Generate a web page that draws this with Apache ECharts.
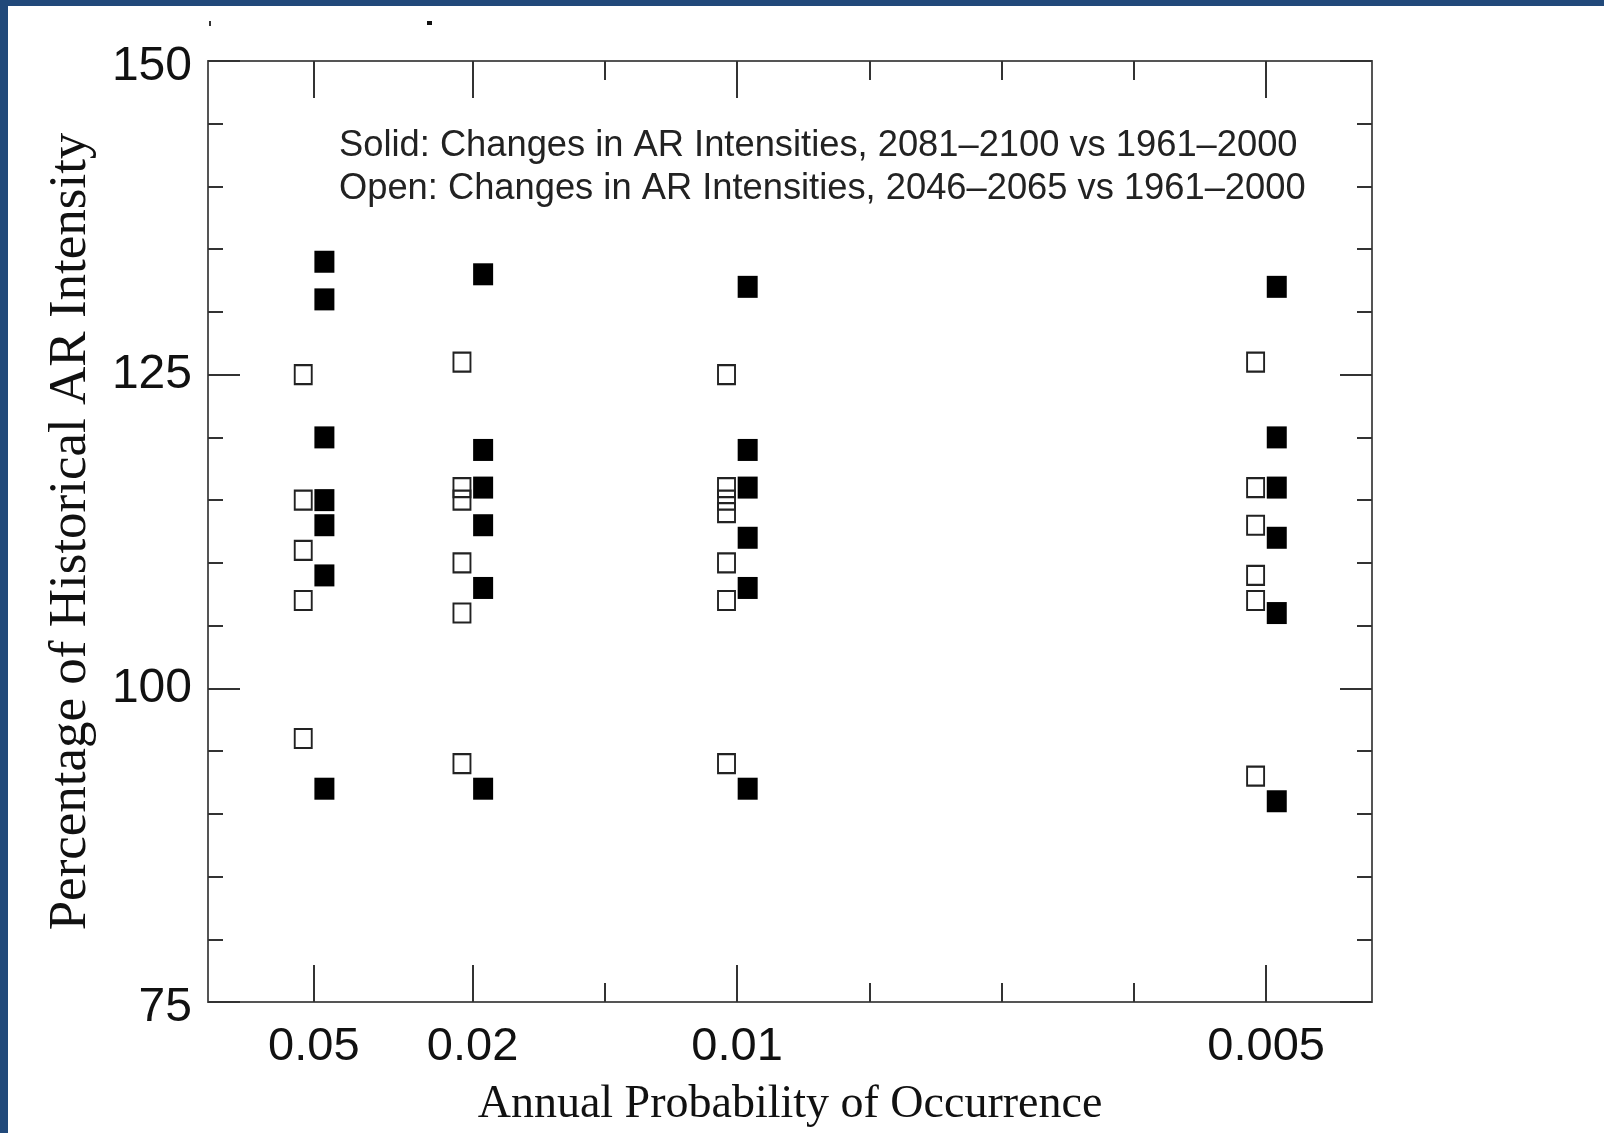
<!DOCTYPE html>
<html>
<head>
<meta charset="utf-8">
<script src="https://cdn.jsdelivr.net/npm/echarts@6/dist/echarts.min.js"></script>
<style>
  html, body { margin: 0; padding: 0; background: #fff; }
  #chart { width: 1604px; height: 1133px; }
</style>
</head>
<body>
<div id="chart"></div>
<script>
// x positions are return periods (1/p), axis is linear in them
var probLabels = ['0.05', '0.02', '0.01', '0.005'];
var returnPeriods = [20, 50, 100, 200];
var minorTickValues = [75, 125, 150, 175];

// Solid: 2081-2100 vs 1961-2000
var solidValues = [
  [134, 131, 120, 115, 113, 109, 92],
  [133, 119, 116, 113, 108, 92],
  [132, 119, 116, 112, 108, 92],
  [132, 120, 116, 112, 106, 91]
];
// Open: 2046-2065 vs 1961-2000
var openValues = [
  [125, 115, 111, 107, 96],
  [126, 116, 115, 110, 106, 94],
  [125, 116, 115, 114, 110, 107, 94],
  [126, 116, 113, 109, 107, 93]
];

var OPEN_SHIFT = -2, SOLID_SHIFT = 2;

function toPoints(cols, shift) {
  var pts = [];
  cols.forEach(function (vals, i) {
    vals.forEach(function (v) { pts.push([returnPeriods[i] + shift, v]); });
  });
  return pts;
}

var chart = echarts.init(document.getElementById('chart'));
var lineStyle = { color: '#555', width: 2 };
var tickStyle = { color: '#333', width: 2 };

function xAxisDef(position, ticks, len, main) {
  return {
    type: 'value', position: position, min: 0, max: 220,
    axisLine: { show: main, onZero: false, lineStyle: lineStyle },
    axisTick: { show: true, inside: true, length: len, customValues: ticks, lineStyle: tickStyle },
    axisLabel: { show: false },
    splitLine: { show: false }
  };
}

var bottomMain = xAxisDef('bottom', returnPeriods, 37, true);
bottomMain.axisLabel = {
  show: true, customValues: returnPeriods, margin: 22,
  fontFamily: 'Liberation Sans', fontSize: 47, color: '#111',
  formatter: function (v) {
    var i = returnPeriods.indexOf(v);
    return i >= 0 ? probLabels[i] : '';
  }
};
bottomMain.name = 'Annual Probability of Occurrence';
bottomMain.nameLocation = 'middle';
bottomMain.nameGap = 80;
bottomMain.nameTextStyle = { fontFamily: 'Liberation Serif', fontSize: 46, color: '#111' };

function yAxisDef(position, main) {
  return {
    type: 'value', position: position, min: 75, max: 150, interval: 25,
    axisLine: { show: true, onZero: false, lineStyle: lineStyle },
    axisTick: { show: true, inside: true, length: 32, lineStyle: tickStyle },
    minorTick: { show: true, splitNumber: 5, length: 15, lineStyle: tickStyle },
    axisLabel: {
      show: main, margin: 16, fontFamily: 'Liberation Sans', fontSize: 48, color: '#111',
      // end labels sit a little below their ticks in the original
      formatter: function (v) { return (v === 75 || v === 150) ? '{edge|' + v + '}' : String(v); },
      rich: { edge: { fontFamily: 'Liberation Sans', fontSize: 48, color: '#111', padding: [12, 0, 0, 0] } }
    },
    splitLine: { show: false },
    minorSplitLine: { show: false }
  };
}

var leftAxis = yAxisDef('left', true);
leftAxis.name = 'Percentage of Historical AR Intensity';
leftAxis.nameLocation = 'middle';
leftAxis.nameGap = 110;
leftAxis.nameTextStyle = { fontFamily: 'Liberation Serif', fontSize: 53, color: '#111' };

var option = {
  animation: false,
  backgroundColor: '#fff',
  title: {
    text: 'Solid: Changes in AR Intensities, 2081\u20132100 vs 1961\u20132000\nOpen: Changes in AR Intensities, 2046\u20132065 vs 1961\u20132000',
    left: 339, top: 124, padding: 0,
    textStyle: { fontFamily: 'Liberation Sans', fontSize: 36.3, fontWeight: 'normal', color: '#222', lineHeight: 43 }
  },
  grid: { left: 208, right: 232, top: 61, bottom: 127 },
  xAxis: [
    bottomMain,
    xAxisDef('bottom', minorTickValues, 19, false),
    xAxisDef('top', returnPeriods, 37, true),
    xAxisDef('top', minorTickValues, 19, false)
  ],
  yAxis: [leftAxis, yAxisDef('right', false)],
  graphic: [
    { type: 'rect', shape: { x: 0, y: 0, width: 8, height: 1133 }, style: { fill: '#21497a' } },
    { type: 'rect', shape: { x: 0, y: 0, width: 1604, height: 6 }, style: { fill: '#21497a' } },
    { type: 'rect', shape: { x: 209, y: 21, width: 2, height: 5 }, style: { fill: '#333' } },
    { type: 'rect', shape: { x: 427, y: 21, width: 5, height: 4 }, style: { fill: '#111' } }
  ],
  series: [
    {
      name: 'Open', type: 'scatter', symbol: 'rect', symbolSize: [17, 19],
      itemStyle: { color: 'rgba(255,255,255,0)', borderColor: '#222', borderWidth: 2, opacity: 1 },
      data: toPoints(openValues, OPEN_SHIFT)
    },
    {
      name: 'Solid', type: 'scatter', symbol: 'rect', symbolSize: [20, 22],
      itemStyle: { color: '#000', opacity: 1 },
      data: toPoints(solidValues, SOLID_SHIFT)
    }
  ]
};

option && chart.setOption(option);
window.addEventListener('resize', function () { chart.resize(); });
</script>
</body>
</html>
